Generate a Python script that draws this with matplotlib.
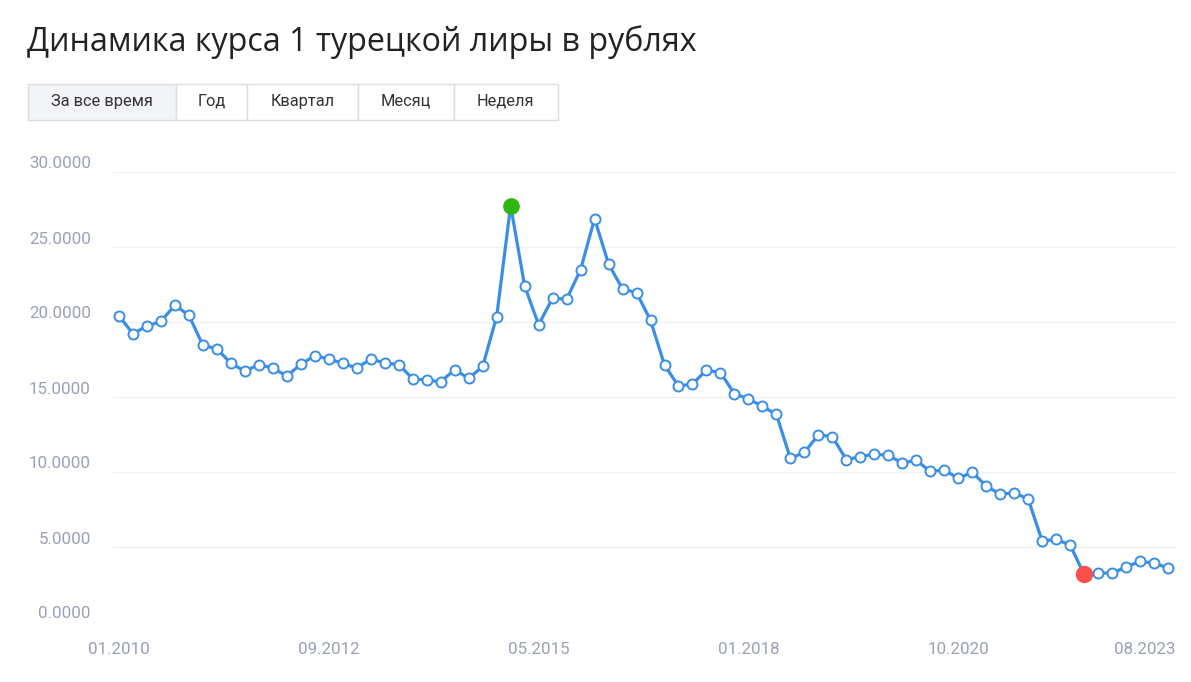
import matplotlib
matplotlib.use("Agg")
import matplotlib.pyplot as plt
from matplotlib.patches import Rectangle
import matplotlib.transforms as mtransforms

# ---- data ----
rates = [20.40, 19.22, 19.73, 20.04, 21.13, 20.44, 18.44, 18.22, 17.24, 16.73,
         17.16, 16.93, 16.40, 17.18, 17.76, 17.53, 17.24, 16.93, 17.53, 17.27,
         17.16, 16.22, 16.13, 16.02, 16.82, 16.24, 17.04, 20.36, 27.76, 22.40,
         19.82, 21.60, 21.51, 23.49, 26.89, 23.87, 22.20, 21.96, 20.11, 17.13,
         15.73, 15.87, 16.80, 16.62, 15.22, 14.87, 14.38, 13.84, 10.91, 11.31,
         12.47, 12.36, 10.82, 11.02, 11.20, 11.11, 10.60, 10.78, 10.04, 10.13,
         9.58, 9.98, 9.07, 8.51, 8.62, 8.20, 5.40, 5.51, 5.13, 3.18,
         3.29, 3.24, 3.67, 4.04, 3.93, 3.60]
x_tick_idx = [0, 15, 30, 45, 60, 75]
x_tick_labels = ["01.2010", "09.2012", "05.2015", "01.2018", "10.2020", "08.2023"]
y_ticks = [0, 5, 10, 15, 20, 25, 30]
title = "Динамика курса 1 турецкой лиры в рублях"
buttons = ["За все время", "Год", "Квартал", "Месяц", "Неделя"]

W, H = 1191, 682
fig = plt.figure(figsize=(W / 100, H / 100), dpi=100)
fig.patch.set_facecolor("white")

def fx(px):
    return px / W

def fy(py):
    return 1 - py / H

# title
fig.text(fx(27), fy(42), title, fontsize=23.2, color="#222222",
         family=["Open Sans", "DejaVu Sans"], va="center", ha="left")

# period buttons
edges = [27.5, 176, 247, 357.5, 453.5, 557.5]
top_px, bot_px = 83.5, 120
for i, lab in enumerate(buttons):
    x0, x1 = edges[i], edges[i + 1]
    face = "#f2f4f8" if i == 0 else "white"
    r = Rectangle((fx(x0), fy(bot_px)), fx(x1 - x0), (bot_px - top_px) / H,
                  transform=fig.transFigure, facecolor=face,
                  edgecolor="#dadde3", linewidth=1.0)
    fig.add_artist(r)
    fig.text(fx((x0 + x1) / 2), fy(101.5), lab, fontsize=11.8, color="#333333",
             family=["Roboto", "DejaVu Sans"], ha="center", va="center")

# axes
ax = fig.add_axes([fx(113), fy(622), fx(1176 - 113), (622 - 172) / H])
xs = list(range(len(rates)))
ax.plot(xs, rates, color="#3a8ee8", linewidth=2.3, zorder=3,
        marker="o", markersize=7.2, markerfacecolor="white",
        markeredgecolor="#3a8ee8", markeredgewidth=1.4)

imax = max(range(len(rates)), key=lambda i: rates[i])
imin = min(range(len(rates)), key=lambda i: rates[i])
ax.plot([imax], [rates[imax]], marker="o", markersize=11, color="#2eb70f",
        linestyle="none", zorder=4)
ax.plot([imin], [rates[imin]], marker="o", markersize=11.5, color="#fb4f4a",
        linestyle="none", zorder=4)

ax.set_xlim(-0.43, len(rates) - 1 + 0.57)
ax.set_ylim(0, 30)
ax.set_yticks(y_ticks)
ax.set_yticklabels([f"{v:.4f}" for v in y_ticks])
ax.set_xticks(x_tick_idx)
ax.set_xticklabels(x_tick_labels)
ax.grid(axis="y", color="#eef0f3", linewidth=1.0, zorder=0)
ax.set_axisbelow(True)
for s in ax.spines.values():
    s.set_visible(False)
ax.tick_params(axis="both", length=0, labelsize=12.2, labelcolor="#9aa0b5")
ax.tick_params(axis="y", pad=16)
ax.tick_params(axis="x", pad=14.5)
for lab in ax.get_xticklabels():
    lab.set_family(["Roboto", "DejaVu Sans"])
for lab in ax.get_yticklabels():
    lab.set_family(["Roboto", "DejaVu Sans"])
    lab.set_verticalalignment("center")
ax.get_xticklabels()[-1].set_horizontalalignment("right")
# y labels sit slightly above their gridlines
off = mtransforms.ScaledTranslation(0, 8 / 100, fig.dpi_scale_trans)
for lab in ax.get_yticklabels():
    lab.set_transform(lab.get_transform() + off)
offx = mtransforms.ScaledTranslation(7 / 100, 0, fig.dpi_scale_trans)
ax.get_xticklabels()[-1].set_transform(ax.get_xticklabels()[-1].get_transform() + offx)

fig.savefig("out.png", dpi=100)
